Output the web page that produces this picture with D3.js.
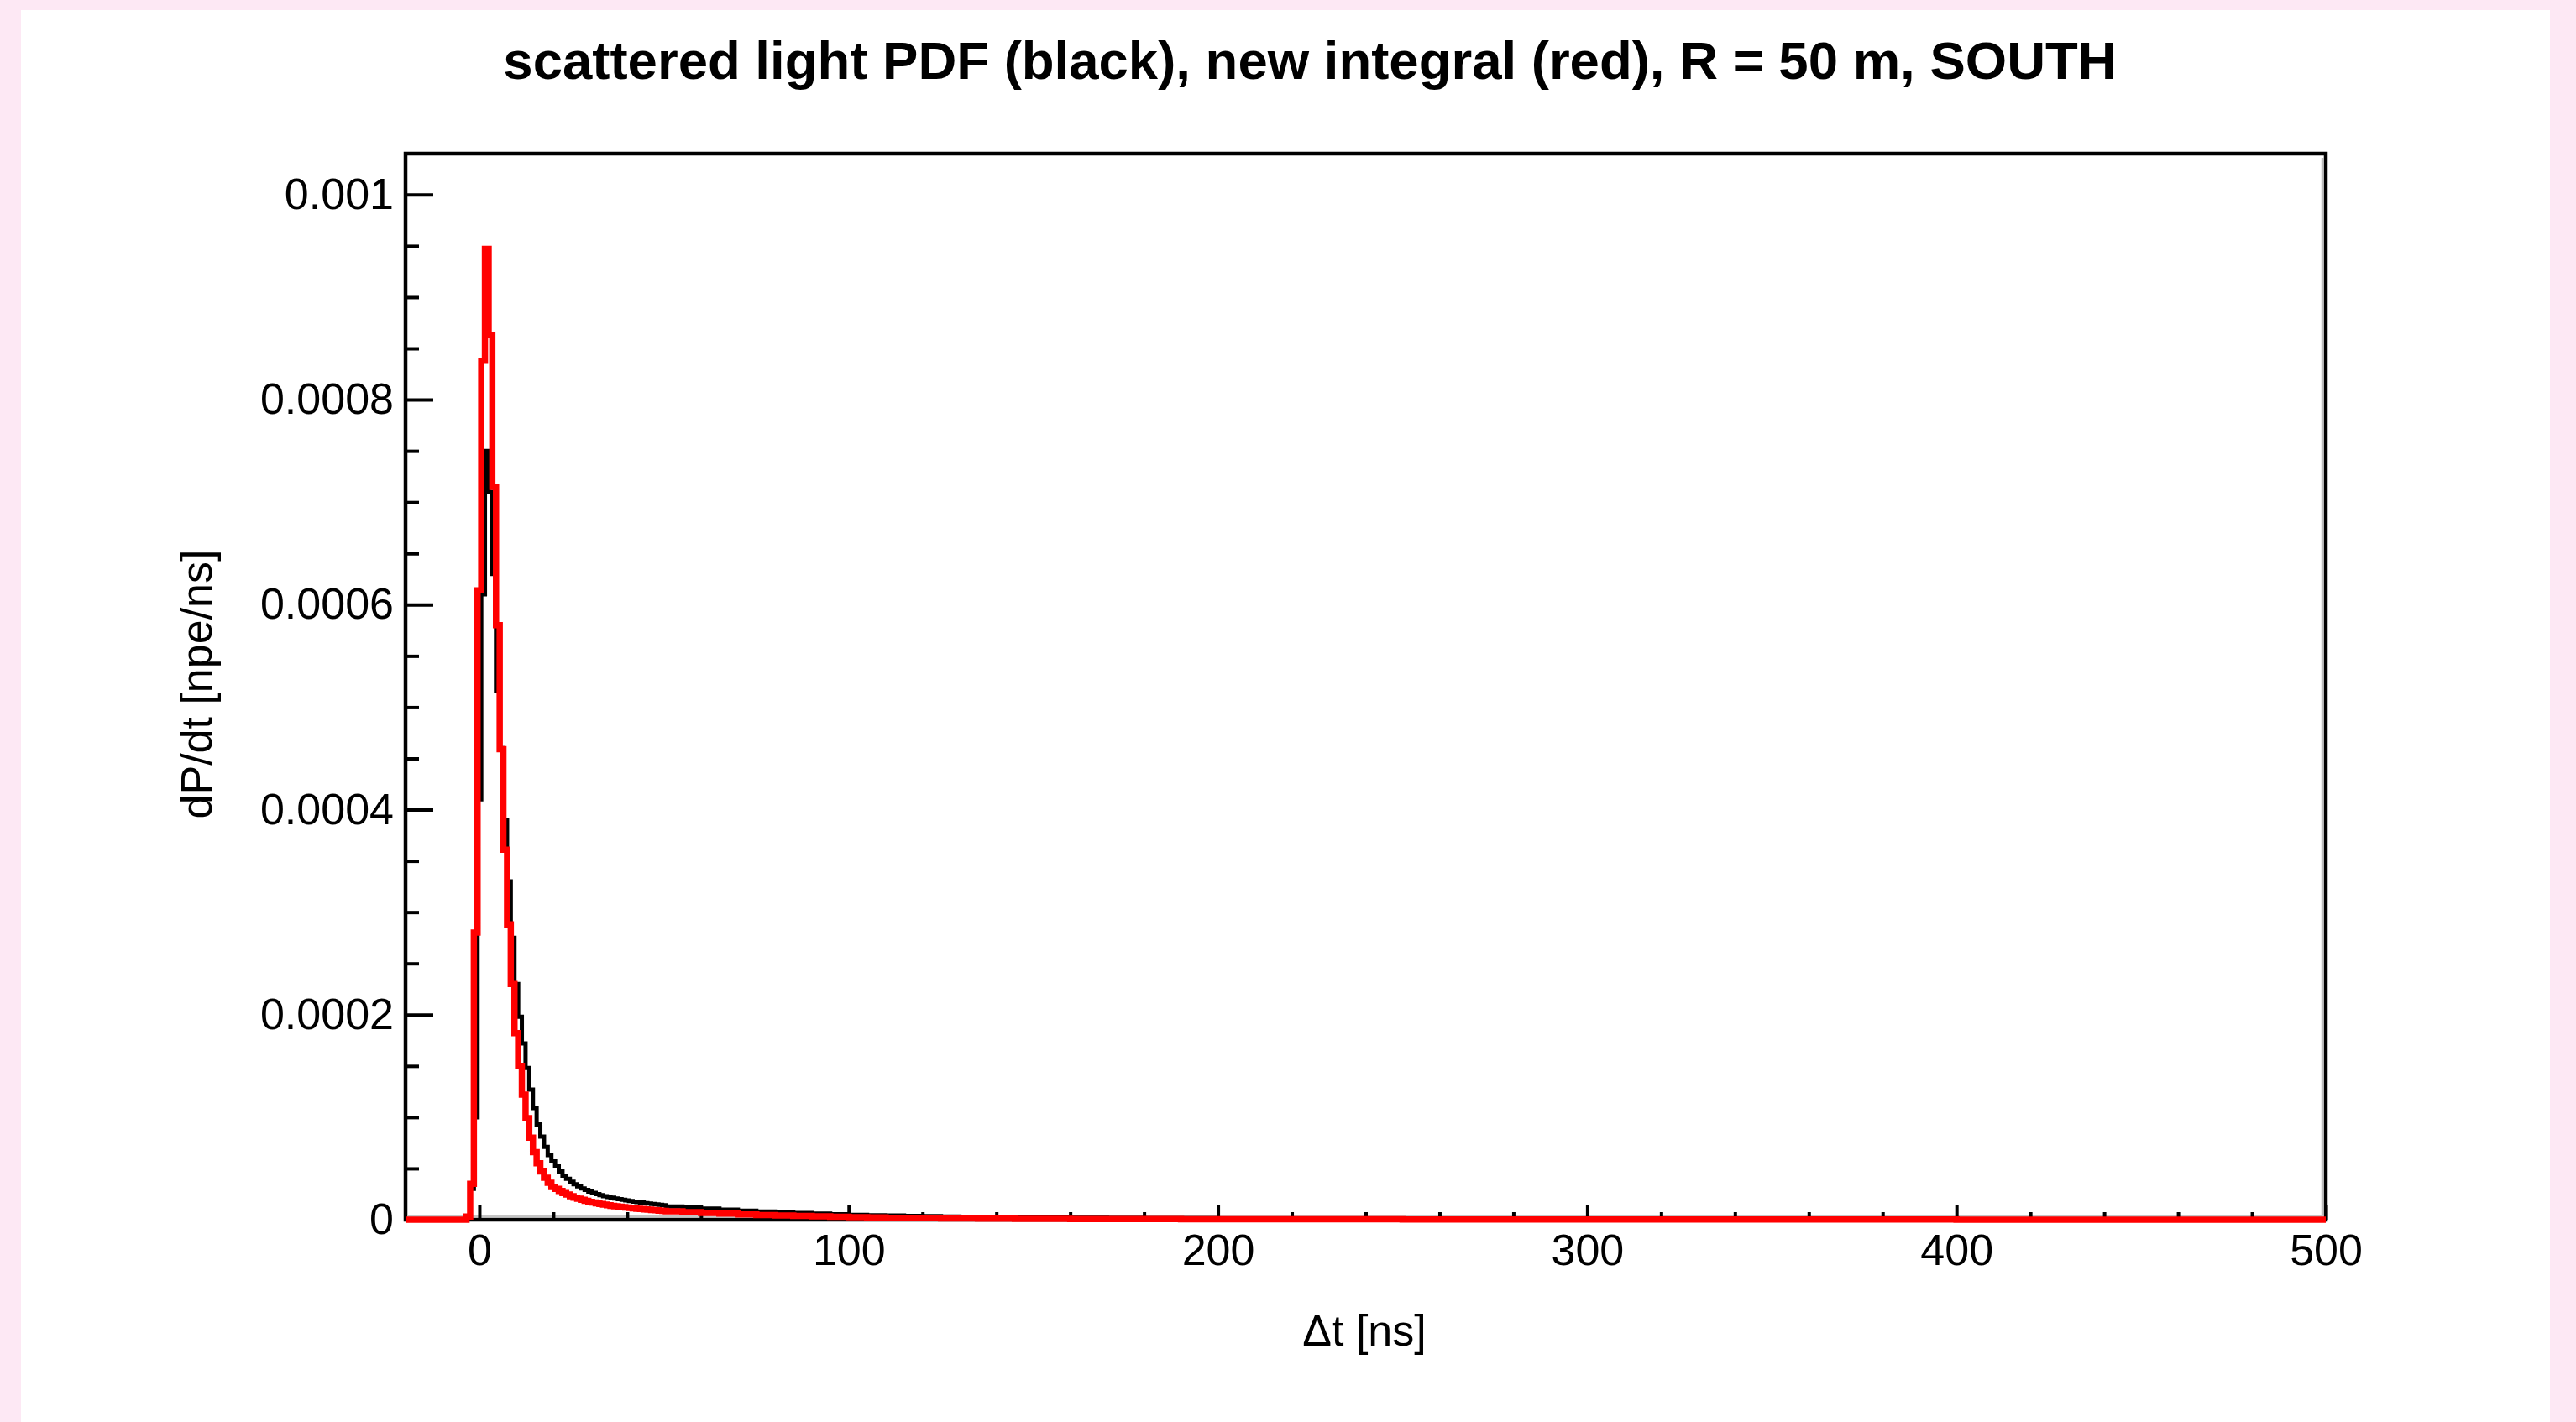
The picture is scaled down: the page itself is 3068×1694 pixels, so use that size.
<!DOCTYPE html>
<html>
<head>
<meta charset="utf-8">
<script src="https://cdn.jsdelivr.net/npm/d3@7/dist/d3.min.js"></script>
<style>
  html, body { margin: 0; padding: 0; background: #fde8f4; }
  svg { display: block; }
  text { font-family: "Liberation Sans", Arial, Helvetica, sans-serif; fill: #000; }
</style>
</head>
<body>
<svg id="chart" width="3068" height="1694"></svg>
<script>
// ---------------- data ----------------
const titleText = "scattered light PDF (black), new integral (red), R = 50 m, SOUTH";
const xTitle = "\u0394t [ns]";
const yTitle = "dP/dt [npe/ns]";

const xDomain = [-20, 500];
const yDomain = [0, 0.00104];

const xTickValues = [0, 100, 200, 300, 400, 500];
const xTickLabels = ["0", "100", "200", "300", "400", "500"];
const yTickValues = [0, 0.0002, 0.0004, 0.0006, 0.0008, 0.001];
const yTickLabels = ["0", "0.0002", "0.0004", "0.0006", "0.0008", "0.001"];

// histogram bin edges [ns]
const binEdges = [
  -20, -3.5, -2.5, -1.5, -0.5, 0.5, 1.5, 2.5, 3.5, 4.5, 5.5, 6.5, 7.5, 8.5, 9.5,
  10.5, 11.5, 12.5, 13.5, 14.5, 15.5, 16.5, 17.5, 18.5, 19.5, 20.5, 21.5, 22.5,
  23.5, 24.5, 25.5, 26.5, 27.5, 28.5, 29.5, 30.5, 31.5, 32.5, 33.5, 34.5, 35.5,
  36.5, 37.5, 38.5, 39.5, 40.5, 41.5, 42.5, 43.5, 44.5, 45.5, 46.5, 47.5, 48.5,
  49.5, 50.5,
  55, 60, 65, 70, 75, 80, 85, 90, 95, 100, 105, 110, 115, 120, 125, 130, 135,
  140, 145, 150,
  160, 170, 180, 190, 200, 225, 250, 275, 300, 350, 400, 450, 500
];

const UNIT = 1e-4; // values below are in units of 1e-4 npe/ns

// scattered light PDF (black)
const blackValues = [
  0, 0.01, 0.3, 1.0, 4.1, 6.1, 7.5, 7.1, 6.3, 5.16, 4.6, 3.9, 3.3, 2.75, 2.3,
  1.98, 1.72, 1.48, 1.27, 1.09, 0.93, 0.81, 0.71, 0.63, 0.57, 0.52, 0.47, 0.43,
  0.4, 0.37, 0.345, 0.325, 0.305, 0.29, 0.275, 0.262, 0.25, 0.24, 0.23, 0.222,
  0.214, 0.207, 0.2, 0.194, 0.188, 0.182, 0.177, 0.172, 0.167, 0.162, 0.157,
  0.153, 0.149, 0.145, 0.141,
  0.128, 0.118, 0.108, 0.098, 0.089, 0.08, 0.072, 0.065, 0.059, 0.053, 0.048,
  0.044, 0.04, 0.037, 0.034, 0.031, 0.029, 0.027, 0.025, 0.023,
  0.021, 0.019, 0.017, 0.015, 0.014, 0.012, 0.01, 0.008, 0.007, 0.005, 0.004,
  0.003, 0.002
];

// new integral (red)
const redValues = [
  0, 0.03, 0.35, 2.8, 6.14, 8.38, 9.47, 8.63, 7.15, 5.8, 4.59, 3.61, 2.88, 2.3,
  1.82, 1.5, 1.22, 0.99, 0.8, 0.66, 0.55, 0.47, 0.41, 0.36, 0.32, 0.3, 0.28,
  0.26, 0.245, 0.23, 0.215, 0.205, 0.195, 0.185, 0.175, 0.167, 0.16, 0.153,
  0.147, 0.141, 0.136, 0.131, 0.126, 0.122, 0.118, 0.114, 0.11, 0.107, 0.104,
  0.101, 0.098, 0.095, 0.092, 0.089, 0.086,
  0.082, 0.074, 0.066, 0.059, 0.052, 0.046, 0.041, 0.036, 0.032, 0.028, 0.025,
  0.022, 0.019, 0.017, 0.015, 0.013, 0.012, 0.011, 0.01, 0.009,
  0.008, 0.007, 0.006, 0.0055, 0.005, 0.004, 0.0035, 0.003, 0.0025, 0.002,
  0.0015, 0.001, 0.0008
];

// ---------------- drawing ----------------
const svg = d3.select("#chart");
const W = 3068, H = 1694;
const frame = { left: 483, right: 2770, top: 183, bottom: 1453 };

// white pad
svg.append("rect").attr("x", 25).attr("y", 12).attr("width", 3037 - 25).attr("height", H - 12).attr("fill", "#fff");

const x = d3.scaleLinear().domain(xDomain).range([frame.left, frame.right]);
const y = d3.scaleLinear().domain(yDomain).range([frame.bottom, frame.top]);

// light grey shadow lines inside frame
svg.append("line").attr("x1", frame.right - 4).attr("x2", frame.right - 4)
  .attr("y1", frame.top + 5).attr("y2", frame.bottom - 3)
  .attr("stroke", "#bbbbbb").attr("stroke-width", 2.5);
svg.append("line").attr("x1", frame.left + 3).attr("x2", frame.right - 3)
  .attr("y1", frame.bottom - 4).attr("y2", frame.bottom - 4)
  .attr("stroke", "#c4c4c4").attr("stroke-width", 2.5);

// Y axis: major + minor ticks (pointing inward)
const yMinor = d3.range(0, 0.00104, 0.00005).filter(v => yTickValues.every(t => Math.abs(t - v) > 1e-9));
const yMinorAxis = d3.axisLeft(y).tickValues(yMinor).tickSize(-16).tickFormat("");
svg.append("g").attr("transform", `translate(${frame.left},0)`).call(yMinorAxis)
  .call(g => g.select(".domain").remove())
  .call(g => g.selectAll("line").attr("stroke", "#000").attr("stroke-width", 4));

const yAxis = d3.axisLeft(y).tickValues(yTickValues).tickSize(-33).tickPadding(14)
  .tickFormat((d, i) => yTickLabels[i]);
svg.append("g").attr("transform", `translate(${frame.left},0)`).call(yAxis)
  .call(g => g.select(".domain").remove())
  .call(g => g.selectAll("line").attr("stroke", "#000").attr("stroke-width", 4))
  .call(g => g.selectAll("text").attr("font-size", 52).attr("font-family", "Liberation Sans, Arial, sans-serif").attr("fill", "#000"));

// X axis: major + minor ticks (pointing inward)
const xMinor = d3.range(-20, 501, 20).filter(v => xTickValues.indexOf(v) < 0 && v > xDomain[0]);
const xMinorAxis = d3.axisBottom(x).tickValues(xMinor).tickSize(-9).tickFormat("");
svg.append("g").attr("transform", `translate(0,${frame.bottom})`).call(xMinorAxis)
  .call(g => g.select(".domain").remove())
  .call(g => g.selectAll("line").attr("stroke", "#000").attr("stroke-width", 4));

const xAxis = d3.axisBottom(x).tickValues(xTickValues).tickSize(-17).tickPadding(17)
  .tickFormat((d, i) => xTickLabels[i]);
svg.append("g").attr("transform", `translate(0,${frame.bottom})`).call(xAxis)
  .call(g => g.select(".domain").remove())
  .call(g => g.selectAll("line").attr("stroke", "#000").attr("stroke-width", 4))
  .call(g => g.selectAll("text").attr("font-size", 52).attr("font-family", "Liberation Sans, Arial, sans-serif").attr("fill", "#000"));

// frame
svg.append("rect").attr("x", frame.left).attr("y", frame.top)
  .attr("width", frame.right - frame.left).attr("height", frame.bottom - frame.top)
  .attr("fill", "none").attr("stroke", "#000").attr("stroke-width", 4.5);

// histograms as step outlines
function histPoints(values) {
  const pts = values.map((v, i) => [binEdges[i], v * UNIT]);
  pts.push([binEdges[binEdges.length - 1], values[values.length - 1] * UNIT]);
  return pts;
}
const stepLine = d3.line().x(d => x(d[0])).y(d => y(d[1])).curve(d3.curveStepAfter);

svg.append("path").datum(histPoints(blackValues))
  .attr("d", stepLine).attr("fill", "none").attr("stroke", "#000")
  .attr("stroke-width", 5).attr("stroke-linejoin", "miter").attr("stroke-linecap", "butt");

svg.append("path").datum(histPoints(redValues))
  .attr("d", stepLine).attr("fill", "none").attr("stroke", "#ff0000")
  .attr("stroke-width", 7.5).attr("stroke-linejoin", "miter").attr("stroke-linecap", "butt");

// title
svg.append("text").attr("x", 1560).attr("y", 94).attr("text-anchor", "middle")
  .attr("font-size", 63.5).attr("font-weight", "bold").text(titleText);

// axis titles
svg.append("text").attr("x", 1625).attr("y", 1603).attr("text-anchor", "middle")
  .attr("font-size", 52).text(xTitle);

svg.append("text").attr("transform", "translate(252,815) rotate(-90)")
  .attr("text-anchor", "middle").attr("font-size", 52).text(yTitle);
</script>
</body>
</html>
